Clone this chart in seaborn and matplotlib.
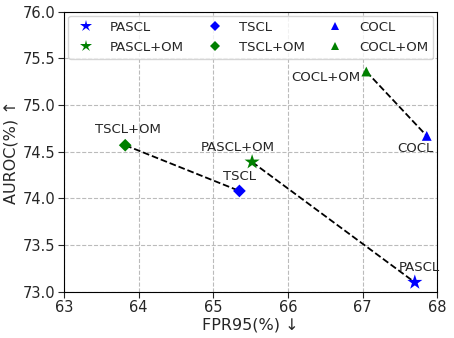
import seaborn as sns
import matplotlib.pyplot as plt
import pandas as pd

sns.set_style("whitegrid", {"grid.linestyle": "--", "grid.color": "#bbbbbb",
                            "axes.edgecolor": "black"})
plt.rcParams['font.family'] = ['DejaVu Sans']

# data
methods = ["PASCL", "PASCL+OM", "TSCL", "TSCL+OM", "COCL", "COCL+OM"]
fpr95 = [67.70, 65.52, 65.35, 63.82, 67.86, 67.05]
auroc = [73.10, 74.39, 74.08, 74.57, 74.67, 75.36]
colors = ["blue", "green", "blue", "green", "blue", "green"]
markers = ["*", "*", "D", "D", "^", "^"]
msizes = [130, 130, 42, 42, 50, 50]
pairs = [("TSCL+OM", "TSCL"), ("PASCL+OM", "PASCL"), ("COCL+OM", "COCL")]

df = pd.DataFrame({"Method": methods, "FPR95": fpr95, "AUROC": auroc})

fig, ax = plt.subplots(figsize=(4.54, 3.38), dpi=100)
fig.subplots_adjust(left=0.141, right=0.963, top=0.965, bottom=0.137)

# dashed connectors between base and +OM
pts = df.set_index("Method")
for a, b in pairs:
    ax.plot([pts.loc[a, "FPR95"], pts.loc[b, "FPR95"]],
            [pts.loc[a, "AUROC"], pts.loc[b, "AUROC"]],
            "k--", lw=1.3, zorder=2)

sns.scatterplot(data=df, x="FPR95", y="AUROC", hue="Method", style="Method",
                size="Method",
                palette=dict(zip(methods, colors)),
                markers=dict(zip(methods, markers)),
                sizes=dict(zip(methods, msizes)),
                linewidth=0, ax=ax, zorder=3)

# point labels
offsets = {
    "PASCL": (3, 6, "center"),
    "PASCL+OM": (-10, 6, "center"),
    "TSCL": (0, 6, "center"),
    "TSCL+OM": (2, 7, "center"),
    "COCL": (5, -14, "right"),
    "COCL+OM": (-4, -9, "right"),
}
for m, x, y in zip(methods, fpr95, auroc):
    dx, dy, ha = offsets[m]
    ax.annotate(m, (x, y), xytext=(dx, dy), textcoords="offset points",
                ha=ha, va="bottom", fontsize=9.5)

ax.set_xlim(63, 68)
ax.set_ylim(73.0, 76.0)
ax.set_yticks([73.0, 73.5, 74.0, 74.5, 75.0, 75.5, 76.0])
ax.set_yticklabels([f"{v:.1f}" for v in ax.get_yticks()])
ax.tick_params(labelsize=10.5, left=True, bottom=True, length=4, pad=2)
ax.set_xlabel("FPR95(%) \u2193", fontsize=11.5, labelpad=2)
ax.set_ylabel("AUROC(%) \u2191", fontsize=11.5, labelpad=3)

ax.legend(loc="upper left", ncol=3, fontsize=9.5, mode="expand",
          bbox_to_anchor=(0.0, 1.0, 1.0, 0.0), borderaxespad=0.3,
          handletextpad=0.8, columnspacing=1.0, framealpha=0.8,
          markerscale=0.8)

plt.savefig("out.png", dpi=100)
